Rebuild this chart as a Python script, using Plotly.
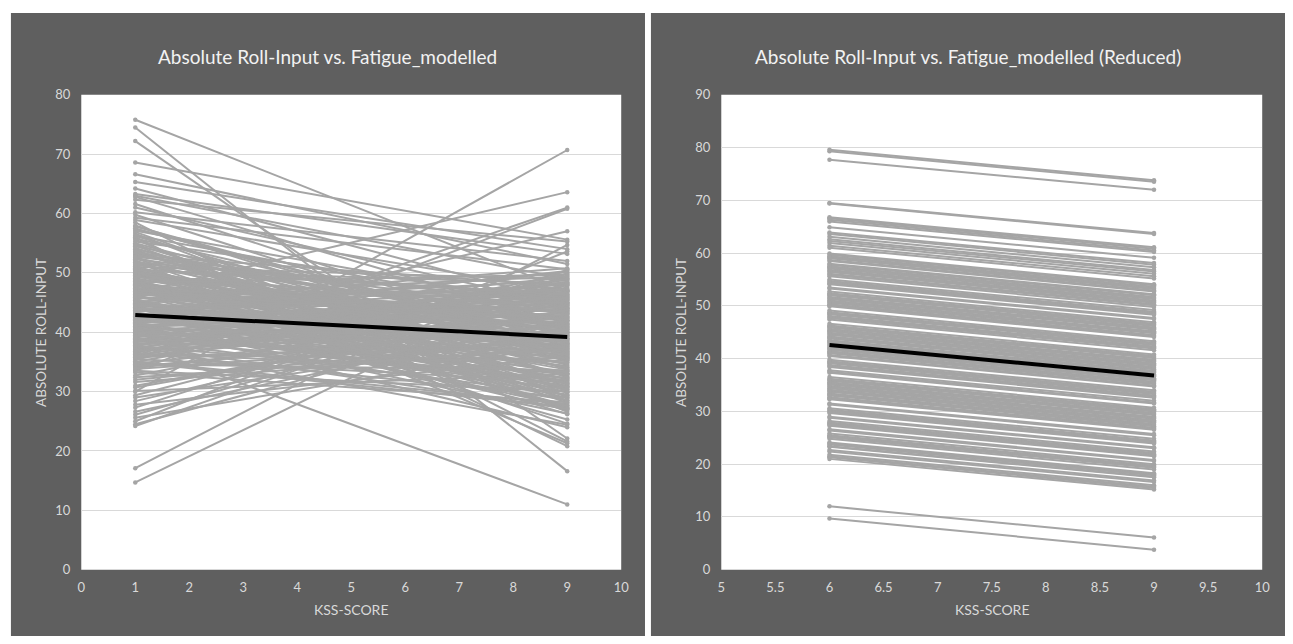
import plotly.graph_objects as go

W, H = 1293, 644

# ---------------- data: left panel (KSS 1 -> KSS 9) ----------------
LEFT_X = [1, 9]
LEFT_START = [
    75.8, 74.5, 72.2, 68.6, 66.6, 65.3, 64.2, 63.3, 63.0, 62.8,
    62.3, 61.6, 61.0, 60.2, 59.8, 30.0, 46.6, 36.0, 33.5, 40.0,
    14.7, 17.1, 38.0, 52.0, 56.0, 58.5, 24.2, 24.5, 25.0, 25.6,
    26.1, 26.6, 27.3, 27.8, 28.4, 29.0, 29.4, 30.1, 30.7, 31.6,
    32.7, 33.5, 34.2, 34.9, 35.4, 36.3, 37.1, 37.6, 38.4, 38.9,
    39.3, 39.8, 40.4, 40.9, 41.3, 41.8, 42.2, 42.7, 43.1, 43.6,
    44.0, 44.5, 44.9, 45.4, 45.8, 46.3, 46.7, 47.2, 47.6, 48.1,
    48.5, 49.0, 49.4, 49.9, 50.3, 50.8, 51.2, 51.7, 52.4, 52.9,
    53.4, 53.9, 54.5, 55.0, 55.6, 56.3, 56.9, 57.4, 58.0, 58.9,
    35.8, 37.9, 40.1, 42.5, 44.3, 46.0, 47.9, 49.7, 51.5, 54.2,
    36.7, 38.6, 41.0, 43.3, 45.1, 47.4, 50.0, 52.1, 55.3, 57.8,
    34.6, 39.1, 41.6, 44.7, 46.5, 48.8, 50.6, 53.1, 56.6, 59.3,
    32.0, 35.1, 37.4, 40.7, 43.8, 45.6, 48.3, 51.0, 54.8, 57.1,
    36.2, 38.1, 40.6, 42.0, 43.9, 45.3, 47.0, 48.7, 50.4, 52.6,
    35.5, 37.7, 39.9, 41.1, 42.9, 44.6, 46.2, 48.0, 49.6, 51.8,
    34.0, 36.6, 38.8, 40.3, 42.4, 43.7, 45.5, 47.3, 49.1, 53.0,
    33.2, 35.9, 37.2, 39.5, 41.5, 43.0, 44.8, 46.9, 48.9, 50.9,
    37.0, 39.0, 40.8, 42.1, 44.2, 45.7, 47.5, 49.3, 51.1, 55.8,
    38.3, 39.7, 41.9, 43.4, 45.0, 46.6, 48.2, 50.2, 52.7, 54.0,
    34.4, 36.8, 39.4, 41.7, 43.5, 45.9, 47.8, 49.5, 51.4, 53.6,
    31.0, 33.8, 36.4, 38.5, 40.0, 42.8, 44.1, 46.4, 48.6, 50.5,
    35.0, 37.5, 40.5, 43.9, 46.1, 47.1, 49.8, 52.3, 54.6, 57.5,
    32.4, 34.7, 37.8, 41.2, 44.4, 46.8, 48.4, 50.1, 53.5, 56.2,
]
LEFT_END = [
    47.0, 16.6, 22.1, 55.6, 51.5, 54.0, 45.0, 53.2, 49.0, 41.5,
    55.3, 38.0, 44.5, 52.0, 36.5, 70.7, 63.6, 61.0, 60.8, 57.0,
    50.0, 54.7, 11.0, 21.3, 20.8, 21.6, 49.5, 44.0, 53.6, 38.0,
    47.0, 42.0, 50.5, 36.0, 45.5, 40.0, 48.0, 33.0, 43.5, 37.5,
    46.5, 30.0, 41.2, 27.4, 49.8, 35.2, 44.1, 24.4, 39.3, 31.8,
    47.2, 28.6, 42.9, 36.7, 24.0, 45.6, 33.4, 50.3, 29.9, 40.8,
    26.9, 38.5, 48.7, 32.1, 43.8, 27.7, 46.0, 35.9, 30.6, 41.9,
    37.4, 24.6, 44.6, 29.3, 39.9, 34.5, 27.0, 42.4, 31.2, 47.8,
    33.8, 28.1, 40.4, 36.1, 26.6, 43.1, 30.8, 38.8, 35.0, 46.9,
    38.1, 45.3, 32.9, 49.2, 35.6, 39.6, 28.9, 44.0, 37.0, 32.4,
    42.6, 29.5, 47.5, 34.3, 50.8, 31.5, 40.1, 27.3, 45.0, 38.3,
    33.6, 48.3, 26.3, 37.8, 43.4, 30.3, 46.4, 41.0, 29.1, 50.6,
    39.0, 27.9, 46.2, 31.0, 41.6, 25.3, 36.4, 48.9, 32.6, 44.3,
    44.8, 36.9, 30.4, 46.1, 39.5, 33.0, 42.7, 28.4, 48.2, 35.3,
    31.6, 47.9, 38.6, 43.2, 27.6, 40.9, 49.4, 34.7, 37.9, 45.8,
    41.3, 29.0, 45.9, 35.8, 39.8, 48.1, 32.2, 43.6, 36.2, 40.7,
    28.2, 43.0, 49.0, 33.1, 44.9, 30.9, 37.1, 46.7, 41.4, 34.0,
    40.3, 34.9, 44.4, 38.7, 31.3, 47.0, 36.6, 42.1, 29.8, 39.4,
    46.8, 31.9, 37.6, 50.1, 35.4, 42.3, 27.2, 39.0, 44.7, 36.8,
    35.7, 45.4, 41.8, 29.4, 47.3, 37.3, 43.3, 32.8, 40.0, 30.1,
    43.7, 38.9, 33.4, 48.5, 36.3, 44.2, 30.7, 40.6, 26.2, 46.3,
    48.4, 32.3, 39.2, 45.1, 34.1, 41.1, 38.2, 43.9, 28.5, 37.7,
    37.2, 42.5, 27.1, 40.5, 45.7, 33.7, 49.7, 31.4, 42.0, 35.5,
]
LEFT_MEAN = [42.9, 39.2]

# ---------------- data: right panel (KSS 6 -> KSS 9) ----------------
RIGHT_X = [6, 9]
RIGHT_START = [
    79.6, 79.3, 77.7, 69.5, 69.4, 66.8, 66.6, 66.3, 66.0, 64.9,
    63.9, 63.6, 63.1, 62.6, 62.3, 61.9, 61.4, 61.0, 12.0, 9.7,
    59.9, 59.7, 59.4, 59.2, 59.0, 58.7, 58.5,
    58.0, 57.8, 57.5, 57.3, 57.1, 56.8, 56.6, 56.4, 56.1, 55.9, 55.6,
    55.0, 54.7, 54.5, 54.3, 54.1,
    53.5, 53.3,
    52.7, 52.4, 52.2, 52.0, 51.7, 51.5, 51.3, 51.0, 50.8, 50.6, 50.3, 50.1, 49.9,
    49.1, 48.8, 48.6, 48.4, 48.1, 47.9, 47.7, 47.4,
    46.6, 46.3, 46.1, 45.9, 45.6, 45.4, 45.2, 44.9, 44.7, 44.5, 44.2, 44.0, 43.8,
    43.5, 43.3, 43.1, 42.8, 42.6, 42.4, 42.1, 41.9, 41.7, 41.4, 41.2, 41.0, 40.7, 40.5,
    39.8, 39.5, 39.3, 39.1, 38.8, 38.6, 38.4,
    37.8, 37.5, 37.3,
    36.5, 36.2, 36.0, 35.8, 35.5, 35.3, 35.1, 34.8, 34.6, 34.4, 34.1, 33.9, 33.7,
    33.4, 33.2, 33.0, 32.7, 32.5, 32.3,
    31.5, 31.3,
    30.6, 30.3, 30.1, 29.9, 29.7,
    29.0, 28.8,
    28.2, 27.9, 27.7, 27.5, 27.3,
    26.6, 26.4,
    25.8, 25.5, 25.3, 25.1, 24.8,
    24.1, 23.9, 23.7, 23.4, 23.3,
    22.7, 22.4,
    21.8, 21.5, 21.3, 21.0,
]
RIGHT_END = [
    73.8, 73.5, 72.0, 63.8, 63.6, 61.1, 60.8, 60.5, 60.2, 59.1,
    58.1, 57.8, 57.3, 56.8, 56.5, 56.1, 55.6, 55.2, 6.1, 3.8,
    54.1, 53.9, 53.6, 53.4, 53.2, 52.9, 52.7,
    52.2, 52.0, 51.7, 51.5, 51.3, 51.0, 50.8, 50.6, 50.3, 50.1, 49.8,
    49.2, 48.9, 48.7, 48.5, 48.3,
    47.7, 47.5,
    46.9, 46.6, 46.4, 46.2, 45.9, 45.7, 45.5, 45.2, 45.0, 44.8, 44.5, 44.3, 44.1,
    43.3, 43.0, 42.8, 42.6, 42.3, 42.1, 41.9, 41.6,
    40.8, 40.5, 40.3, 40.1, 39.8, 39.6, 39.4, 39.1, 38.9, 38.7, 38.4, 38.2, 38.0,
    37.7, 37.5, 37.3, 37.0, 36.8, 36.6, 36.3, 36.1, 35.9, 35.6, 35.4, 35.2, 34.9, 34.7,
    34.0, 33.7, 33.5, 33.3, 33.0, 32.8, 32.6,
    32.0, 31.7, 31.5,
    30.7, 30.4, 30.2, 30.0, 29.7, 29.5, 29.3, 29.0, 28.8, 28.6, 28.3, 28.1, 27.9,
    27.6, 27.4, 27.2, 26.9, 26.7, 26.5,
    25.7, 25.5,
    24.8, 24.5, 24.3, 24.1, 23.9,
    23.2, 23.0,
    22.4, 22.1, 21.9, 21.7, 21.5,
    20.8, 20.6,
    20.0, 19.7, 19.5, 19.3, 19.0,
    18.3, 18.1, 17.9, 17.6, 17.5,
    16.9, 16.6,
    16.0, 15.7, 15.5, 15.2,
]
RIGHT_MEAN = [42.6, 36.8]

LEFT_TITLE = "Absolute Roll-Input vs. Fatigue_modelled"
RIGHT_TITLE = "Absolute Roll-Input vs. Fatigue_modelled (Reduced)"
X_TITLE = "KSS-SCORE"
Y_TITLE = "ABSOLUTE ROLL-INPUT"

# ---------------- styling ----------------
PANEL = "#5f5f5f"
TEXT = "#d9d9d9"
GRID = "#d9d9d9"
LINE_GRAY = "#a5a5a5"
FONT = "Lato, 'Open Sans', sans-serif"


def px_x(p):
    return p / W


def px_y(p):
    return 1 - p / H


def segments(xs, starts, ends):
    X, Y = [], []
    for a, b in zip(starts, ends):
        X += [xs[0], xs[1], None]
        Y += [a, b, None]
    return X, Y


fig = go.Figure()

lx, ly = segments(LEFT_X, LEFT_START, LEFT_END)
fig.add_trace(go.Scatter(x=lx, y=ly, mode="lines+markers", xaxis="x", yaxis="y",
                         line=dict(color=LINE_GRAY, width=2),
                         marker=dict(color=LINE_GRAY, size=4.5),
                         connectgaps=False, hoverinfo="skip", showlegend=False))
fig.add_trace(go.Scatter(x=LEFT_X, y=LEFT_MEAN, mode="lines", xaxis="x", yaxis="y",
                         line=dict(color="#000000", width=4), showlegend=False))

rx, ry = segments(RIGHT_X, RIGHT_START, RIGHT_END)
fig.add_trace(go.Scatter(x=rx, y=ry, mode="lines+markers", xaxis="x2", yaxis="y2",
                         line=dict(color=LINE_GRAY, width=2),
                         marker=dict(color=LINE_GRAY, size=4.5),
                         connectgaps=False, hoverinfo="skip", showlegend=False))
fig.add_trace(go.Scatter(x=RIGHT_X, y=RIGHT_MEAN, mode="lines", xaxis="x2", yaxis="y2",
                         line=dict(color="#000000", width=4), showlegend=False))

# plot-area pixel boxes (left, right, top, bottom)
L_BOX = (78, 623, 89, 576)
R_BOX = (724, 1270, 89, 576)

tickfont = dict(family=FONT, size=13, color=TEXT)
common_x = dict(showgrid=False, zeroline=False, showline=False, ticks="",
                tickfont=tickfont, ticklabelstandoff=8, fixedrange=True)
common_y = dict(showgrid=True, gridcolor=GRID, gridwidth=1, zeroline=False,
                showline=False, ticks="", tickfont=tickfont, ticklabelstandoff=10,
                fixedrange=True)

fig.update_layout(
    width=W, height=H,
    margin=dict(l=0, r=0, t=0, b=0),
    paper_bgcolor="white", plot_bgcolor="white",
    showlegend=False,
    xaxis=dict(domain=[px_x(L_BOX[0]), px_x(L_BOX[1])], range=[0, 10], dtick=1,
               tick0=0, anchor="y", **common_x),
    yaxis=dict(domain=[px_y(L_BOX[3]), px_y(L_BOX[2])], range=[0, 80], dtick=10,
               tick0=0, anchor="x", **common_y),
    xaxis2=dict(domain=[px_x(R_BOX[0]), px_x(R_BOX[1])], range=[5, 10], dtick=0.5,
                tick0=5, anchor="y2", **common_x),
    yaxis2=dict(domain=[px_y(R_BOX[3]), px_y(R_BOX[2])], range=[0, 90], dtick=10,
                tick0=0, anchor="x2", **common_y),
)

shapes = [
    dict(type="rect", xref="paper", yref="paper", layer="below",
         x0=px_x(7), x1=px_x(647), y0=px_y(644), y1=px_y(5),
         fillcolor=PANEL, line=dict(width=0)),
    dict(type="rect", xref="paper", yref="paper", layer="below",
         x0=px_x(653), x1=px_x(1293), y0=px_y(644), y1=px_y(5),
         fillcolor=PANEL, line=dict(width=0)),
]
for (x0, x1, y0, y1) in (L_BOX, R_BOX):
    shapes.append(dict(type="rect", xref="paper", yref="paper", layer="below",
                       x0=px_x(x0), x1=px_x(x1), y0=px_y(y1), y1=px_y(y0),
                       fillcolor="white", line=dict(width=0)))
fig.update_layout(shapes=shapes)

ann = []
ann.append(dict(text=LEFT_TITLE, x=px_x(327), y=px_y(50), xref="paper", yref="paper",
                showarrow=False, xanchor="center", yanchor="middle",
                font=dict(family=FONT, size=19, color="#f2f2f2")))
ann.append(dict(text=RIGHT_TITLE, x=px_x(973), y=px_y(50), xref="paper", yref="paper",
                showarrow=False, xanchor="center", yanchor="middle",
                font=dict(family=FONT, size=19, color="#f2f2f2")))
for cx in ((L_BOX[0] + L_BOX[1]) / 2, (R_BOX[0] + R_BOX[1]) / 2):
    ann.append(dict(text=X_TITLE, x=px_x(cx), y=px_y(617), xref="paper", yref="paper",
                    showarrow=False, xanchor="center", yanchor="middle",
                    font=dict(family=FONT, size=14, color=TEXT)))
for cx in (38, 684):
    ann.append(dict(text=Y_TITLE, x=px_x(cx), y=px_y(332.5), xref="paper", yref="paper",
                    showarrow=False, xanchor="center", yanchor="middle", textangle=-90,
                    font=dict(family=FONT, size=13.5, color=TEXT)))
fig.update_layout(annotations=ann)

fig.write_html("out.html")
